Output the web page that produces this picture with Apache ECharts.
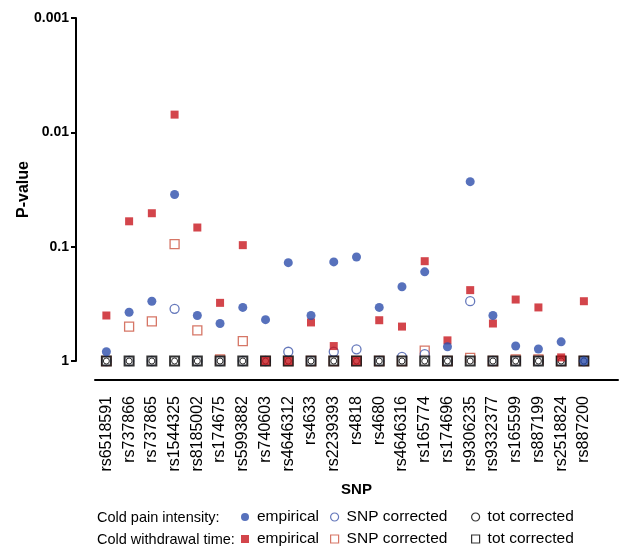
<!DOCTYPE html>
<html>
<head>
<meta charset="utf-8">
<script src="https://cdn.jsdelivr.net/npm/echarts@6/dist/echarts.min.js"></script>
<style>
html,body{margin:0;padding:0;background:#fff;}
#chart{width:631px;height:549px;}
</style>
</head>
<body>
<div id="chart"></div>
<script>
const snps = ['rs6518591','rs737866','rs737865','rs1544325','rs8185002','rs174675','rs5993882','rs740603','rs4646312','rs4633','rs2239393','rs4818','rs4680','rs4646316','rs165774','rs174696','rs9306235','rs9332377','rs165599','rs887199','rs2518824','rs887200'];

const painEmpirical = [0.83,0.375,0.30,0.035,0.40,0.47,0.34,0.435,0.138,0.40,0.136,0.123,0.34,0.224,0.166,0.75,0.027,0.40,0.74,0.785,0.68,1];
const painSnpCorrected = [1,1,1,0.35,1,1,1,1,0.83,1,0.83,0.79,1,0.92,0.87,1,0.30,1,1,1,1,1];
const painTotCorrected = [1,1,1,1,1,1,1,1,1,1,1,1,1,1,1,1,1,1,1,1,1,1];

const withdrawalEmpirical = [0.40,0.060,0.051,0.0070,0.068,0.31,0.097,1,1,0.46,0.74,1,0.44,0.50,0.134,0.66,0.24,0.47,0.29,0.34,0.93,0.30];
const withdrawalSnpCorrected = [1,0.50,0.45,0.095,0.54,0.97,0.67,1,1,1,1,1,1,1,0.81,1,0.94,1,0.97,0.97,1,1];
const withdrawalTotCorrected = [1,1,1,1,1,1,1,1,1,1,1,1,1,1,1,1,1,1,1,1,1,1];

const yTickLabels = ['1','0.1','0.01','0.001'];

const BLUE = '#2d4dab', RED = '#c8161e', RED_OPEN = '#cc5440', BLUE_OPEN = '#3f56aa';
const FONT = 'Liberation Sans, Arial, sans-serif';

const chart = echarts.init(document.getElementById('chart'), null, {renderer:'canvas'});

function scat(name, data, symbol, size, style, z) {
  return {name, type:'scatter', data, symbol, symbolSize:size, itemStyle:style, z,
          emphasis:{disabled:true}, silent:true};
}

const legendRows = [
  {top:509, items:[
    {name:'pain-emp', icon:'circle', style:{color:BLUE}, text:'empirical', left:241},
    {name:'pain-snp', icon:'circle', style:{color:'#fff', borderColor:BLUE_OPEN, borderWidth:1.2}, text:'SNP corrected', left:330},
    {name:'pain-tot', icon:'circle', style:{color:'#fff', borderColor:'#000', borderWidth:1.2}, text:'tot corrected', left:471}
  ]},
  {top:531, items:[
    {name:'wd-emp', icon:'rect', style:{color:RED}, text:'empirical', left:241},
    {name:'wd-snp', icon:'rect', style:{color:'#fff', borderColor:RED_OPEN, borderWidth:1.2}, text:'SNP corrected', left:330},
    {name:'wd-tot', icon:'rect', style:{color:'#fff', borderColor:'#000', borderWidth:1.2}, text:'tot corrected', left:471}
  ]}
];

const legends = [];
legendRows.forEach(row => row.items.forEach(it => {
  legends.push({
    data:[{name:it.name, icon:it.icon, itemStyle:it.style}],
    left:it.left, top:row.top, padding:0, itemWidth:8, itemHeight:8, itemGap:0,
    selectedMode:false, formatter:it.text,
    textStyle:{fontSize:15.5, color:'#000', fontFamily:FONT, padding:[0,0,0,3]}
  });
}));

const option = {
  animation:false,
  backgroundColor:'#fff',
  title:[
    {text:'Cold pain intensity:', left:97, top:510, padding:0, textStyle:{fontSize:14.5, fontWeight:'normal', color:'#000', fontFamily:FONT}},
    {text:'Cold withdrawal time:', left:97, top:532, padding:0, textStyle:{fontSize:14.5, fontWeight:'normal', color:'#000', fontFamily:FONT}}
  ],
  legend:legends,
  grid:{left:95, right:13, top:18, bottom:188, containLabel:false},
  xAxis:{
    type:'category', data:snps.concat(['']), boundaryGap:true, offset:19,
    axisLine:{lineStyle:{color:'#000', width:2}},
    axisTick:{alignWithLabel:true, length:7, lineStyle:{color:'#000', width:2}, interval:(i)=> i < snps.length},
    axisLabel:{rotate:90, interval:0, margin:16, fontSize:16, color:'#000', fontFamily:FONT},
    splitLine:{show:false},
    name:'SNP', nameLocation:'middle', nameGap:102,
    nameTextStyle:{fontWeight:'bold', fontSize:15, color:'#000', fontFamily:FONT}
  },
  yAxis:{
    type:'log', logBase:10, min:0.001, max:1, inverse:true, offset:19,
    axisLine:{show:true, lineStyle:{color:'#000', width:2}},
    axisTick:{show:true, length:5, lineStyle:{color:'#000', width:2}},
    axisLabel:{fontWeight:'bold', fontSize:14, color:'#000', fontFamily:FONT, margin:7,
      formatter:(v)=> yTickLabels[Math.round(-Math.log10(v))] },
    splitLine:{show:false},
    name:'P-value', nameLocation:'middle', nameGap:44, nameRotate:90, nameMoveOverlap:false,
    nameTextStyle:{fontWeight:'bold', fontSize:16, color:'#000', fontFamily:FONT}
  },
  series:[
    scat('wd-snp', withdrawalSnpCorrected, 'rect', 9, {color:'#fff', borderColor:RED_OPEN, borderWidth:1.3}, 2),
    scat('pain-snp', painSnpCorrected, 'circle', 9, {color:'#fff', borderColor:BLUE_OPEN, borderWidth:1.3}, 3),
    scat('wd-tot', withdrawalTotCorrected, 'rect', 9, {color:'#fff', borderColor:'#000', borderWidth:2}, 4),
    scat('pain-tot', painTotCorrected, 'circle', 6, {color:'#fff', borderColor:'#000', borderWidth:1}, 5),
    scat('wd-emp', withdrawalEmpirical, 'rect', 8, {color:RED}, 6),
    scat('pain-emp', painEmpirical, 'circle', 9, {color:BLUE}, 7)
  ]
};
chart.setOption(option);
</script>
</body>
</html>
